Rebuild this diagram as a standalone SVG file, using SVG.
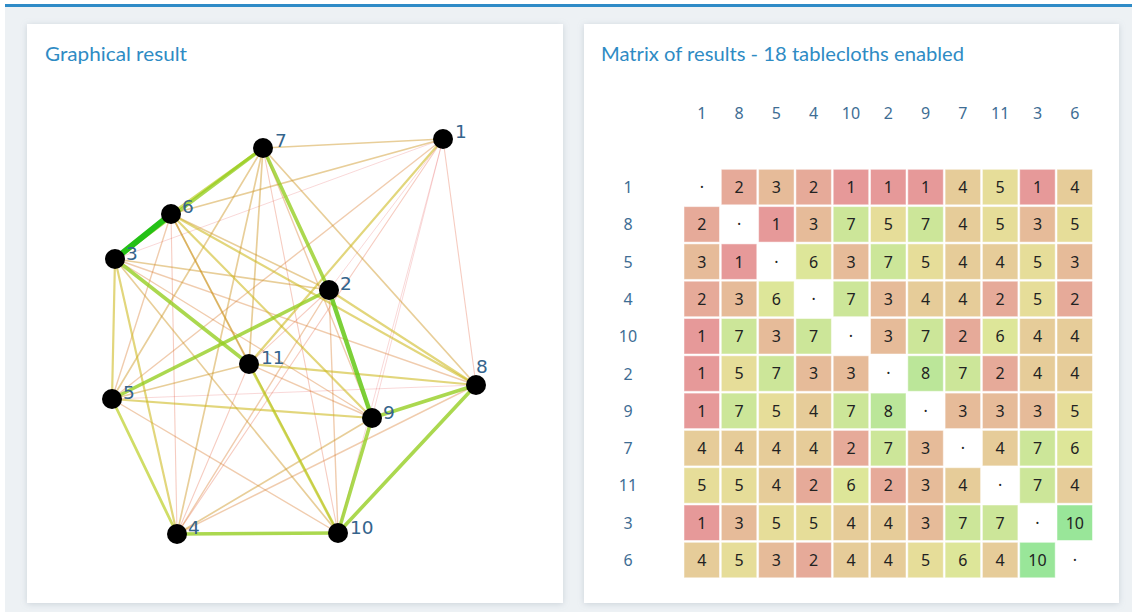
<svg xmlns="http://www.w3.org/2000/svg" width="1132" height="612" viewBox="0 0 1132 612">
<defs>
<filter id="sh" x="-5%" y="-5%" width="110%" height="110%">
<feDropShadow dx="0" dy="1" stdDeviation="3" flood-color="#8a9aa8" flood-opacity="0.35"/>
</filter>
<style>
.title{font-family:"Lato","Noto Sans",sans-serif;font-size:19px;fill:#2e8bc4}
.nl{font-family:"DejaVu Sans",sans-serif;font-size:18.5px;fill:#35648c}
.hd{font-family:"Noto Sans","Liberation Sans",sans-serif;font-size:16px;fill:#3e6d94;text-anchor:middle}
.ct{font-family:"Noto Sans","Liberation Sans",sans-serif;font-size:16px;fill:#222;text-anchor:middle}
.cell rect{stroke:#fff;stroke-opacity:.5;stroke-width:1}
.c1{fill:#e69999}.c2{fill:#e6aa99}.c3{fill:#e6bb99}.c4{fill:#e6cc99}.c5{fill:#e6dd99}
.c6{fill:#dde699}.c7{fill:#cce699}.c8{fill:#bbe699}.c10{fill:#99e699}
line{stroke-linecap:round;fill:none}
.e1{stroke:hsl(0,75%,50%);stroke-opacity:.2;stroke-width:.9}
.e2{stroke:hsl(13,75%,50%);stroke-opacity:.28;stroke-width:1.1}
.e3{stroke:hsl(27,75%,48%);stroke-opacity:.36;stroke-width:1.4}
.e4{stroke:hsl(40,75%,46%);stroke-opacity:.45;stroke-width:1.7}
.e5{stroke:hsl(53,75%,46%);stroke-opacity:.58;stroke-width:2.2}
.e6{stroke:hsl(67,75%,46%);stroke-opacity:.68;stroke-width:2.8}
.e7{stroke:hsl(80,75%,46%);stroke-opacity:.78;stroke-width:3.6}
.e8{stroke:hsl(93,75%,45%);stroke-opacity:.88;stroke-width:4.4}
.e10{stroke:hsl(115,80%,42%);stroke-opacity:1;stroke-width:6}
.node circle{fill:#000}
</style>
</defs>
<rect x="0" y="0" width="1132" height="612" fill="#ffffff"/>
<rect x="5" y="7" width="1127" height="605" fill="#edf1f4"/>
<rect x="5" y="4" width="1127" height="3" fill="#2e8bc7"/>

<g id="panel-left">
<rect x="27" y="24" width="536" height="579" fill="#fff" filter="url(#sh)"/>
<text class="title" x="45" y="61" textLength="142" lengthAdjust="spacingAndGlyphs">Graphical result</text>
</g>
<g id="panel-right">
<rect x="584" y="24" width="535" height="579" fill="#fff" filter="url(#sh)"/>
<text class="title" x="601" y="61" textLength="363" lengthAdjust="spacingAndGlyphs">Matrix of results - 18 tablecloths enabled</text>
</g>

<g id="connectors">
<line class="e1" x1="443" y1="139" x2="338" y2="533"/>
<line class="e1" x1="443" y1="139" x2="329" y2="290"/>
<line class="e1" x1="443" y1="139" x2="372" y2="418"/>
<line class="e1" x1="443" y1="139" x2="115" y2="259"/>
<line class="e1" x1="476" y1="385" x2="112" y2="399"/>
<line class="e2" x1="443" y1="139" x2="476" y2="385"/>
<line class="e2" x1="443" y1="139" x2="177" y2="534"/>
<line class="e2" x1="177" y1="534" x2="249" y2="364"/>
<line class="e2" x1="177" y1="534" x2="171" y2="214"/>
<line class="e2" x1="338" y1="533" x2="263" y2="148"/>
<line class="e2" x1="329" y1="290" x2="249" y2="364"/>
<line class="e3" x1="443" y1="139" x2="112" y2="399"/>
<line class="e3" x1="476" y1="385" x2="177" y2="534"/>
<line class="e3" x1="476" y1="385" x2="115" y2="259"/>
<line class="e3" x1="112" y1="399" x2="338" y2="533"/>
<line class="e3" x1="112" y1="399" x2="171" y2="214"/>
<line class="e3" x1="177" y1="534" x2="329" y2="290"/>
<line class="e3" x1="338" y1="533" x2="329" y2="290"/>
<line class="e3" x1="372" y1="418" x2="263" y2="148"/>
<line class="e3" x1="372" y1="418" x2="249" y2="364"/>
<line class="e3" x1="372" y1="418" x2="115" y2="259"/>
<line class="e4" x1="443" y1="139" x2="263" y2="148"/>
<line class="e4" x1="443" y1="139" x2="171" y2="214"/>
<line class="e4" x1="476" y1="385" x2="263" y2="148"/>
<line class="e4" x1="112" y1="399" x2="263" y2="148"/>
<line class="e4" x1="112" y1="399" x2="249" y2="364"/>
<line class="e4" x1="177" y1="534" x2="372" y2="418"/>
<line class="e4" x1="177" y1="534" x2="263" y2="148"/>
<line class="e4" x1="338" y1="533" x2="115" y2="259"/>
<line class="e4" x1="338" y1="533" x2="171" y2="214"/>
<line class="e4" x1="329" y1="290" x2="115" y2="259"/>
<line class="e4" x1="329" y1="290" x2="171" y2="214"/>
<line class="e4" x1="263" y1="148" x2="249" y2="364"/>
<line class="e4" x1="249" y1="364" x2="171" y2="214"/>
<line class="e5" x1="443" y1="139" x2="249" y2="364"/>
<line class="e5" x1="476" y1="385" x2="329" y2="290"/>
<line class="e5" x1="476" y1="385" x2="249" y2="364"/>
<line class="e5" x1="476" y1="385" x2="171" y2="214"/>
<line class="e5" x1="112" y1="399" x2="372" y2="418"/>
<line class="e5" x1="112" y1="399" x2="115" y2="259"/>
<line class="e5" x1="177" y1="534" x2="115" y2="259"/>
<line class="e5" x1="372" y1="418" x2="171" y2="214"/>
<line class="e6" x1="112" y1="399" x2="177" y2="534"/>
<line class="e6" x1="338" y1="533" x2="249" y2="364"/>
<line class="e6" x1="263" y1="148" x2="171" y2="214"/>
<line class="e7" x1="476" y1="385" x2="338" y2="533"/>
<line class="e7" x1="476" y1="385" x2="372" y2="418"/>
<line class="e7" x1="112" y1="399" x2="329" y2="290"/>
<line class="e7" x1="177" y1="534" x2="338" y2="533"/>
<line class="e7" x1="338" y1="533" x2="372" y2="418"/>
<line class="e7" x1="329" y1="290" x2="263" y2="148"/>
<line class="e7" x1="263" y1="148" x2="115" y2="259"/>
<line class="e7" x1="249" y1="364" x2="115" y2="259"/>
<line class="e8" x1="329" y1="290" x2="372" y2="418"/>
<line class="e10" x1="115" y1="259" x2="171" y2="214"/>
</g>

<g id="node-1" class="node"><circle cx="443" cy="139" r="10"/><text class="nl" x="455" y="138">1</text></g>
<g id="node-2" class="node"><circle cx="329" cy="290" r="10"/><text class="nl" x="340" y="290">2</text></g>
<g id="node-3" class="node"><circle cx="115" cy="259" r="10"/><text class="nl" x="126" y="260">3</text></g>
<g id="node-4" class="node"><circle cx="177" cy="534" r="10"/><text class="nl" x="188" y="534">4</text></g>
<g id="node-5" class="node"><circle cx="112" cy="399" r="10"/><text class="nl" x="123" y="399">5</text></g>
<g id="node-6" class="node"><circle cx="171" cy="214" r="10"/><text class="nl" x="182" y="213">6</text></g>
<g id="node-7" class="node"><circle cx="263" cy="148" r="10"/><text class="nl" x="275" y="147">7</text></g>
<g id="node-8" class="node"><circle cx="476" cy="385" r="10"/><text class="nl" x="476" y="373">8</text></g>
<g id="node-9" class="node"><circle cx="372" cy="418" r="10"/><text class="nl" x="383" y="419">9</text></g>
<g id="node-10" class="node"><circle cx="338" cy="533" r="10"/><text class="nl" x="350" y="534">10</text></g>
<g id="node-11" class="node"><circle cx="249" cy="364" r="10"/><text class="nl" x="261" y="364">11</text></g>

<g id="matrix-header">
<text class="hd" x="701.8" y="119">1</text>
<text class="hd" x="739.1" y="119">8</text>
<text class="hd" x="776.4" y="119">5</text>
<text class="hd" x="813.7" y="119">4</text>
<text class="hd" x="851" y="119">10</text>
<text class="hd" x="888.3" y="119">2</text>
<text class="hd" x="925.6" y="119">9</text>
<text class="hd" x="962.9" y="119">7</text>
<text class="hd" x="1000.2" y="119">11</text>
<text class="hd" x="1037.5" y="119">3</text>
<text class="hd" x="1074.8" y="119">6</text>
</g>
<g id="matrix-rowlabels">
<text class="hd" x="628" y="193">1</text>
<text class="hd" x="628" y="230.3">8</text>
<text class="hd" x="628" y="267.6">5</text>
<text class="hd" x="628" y="304.9">4</text>
<text class="hd" x="628" y="342.2">10</text>
<text class="hd" x="628" y="379.5">2</text>
<text class="hd" x="628" y="416.8">9</text>
<text class="hd" x="628" y="454.1">7</text>
<text class="hd" x="628" y="491.4">11</text>
<text class="hd" x="628" y="528.7">3</text>
<text class="hd" x="628" y="566">6</text>
</g>

<g id="matrix-cells" class="cell">
<g transform="translate(0,169.3)">
<text class="ct" x="701.8" y="23.7">·</text>
<rect class="c2" x="721.3" y="0" width="35.5" height="35.5"/><text class="ct" x="739.1" y="23.7">2</text>
<rect class="c3" x="758.6" y="0" width="35.5" height="35.5"/><text class="ct" x="776.4" y="23.7">3</text>
<rect class="c2" x="795.9" y="0" width="35.5" height="35.5"/><text class="ct" x="813.7" y="23.7">2</text>
<rect class="c1" x="833.2" y="0" width="35.5" height="35.5"/><text class="ct" x="851" y="23.7">1</text>
<rect class="c1" x="870.5" y="0" width="35.5" height="35.5"/><text class="ct" x="888.3" y="23.7">1</text>
<rect class="c1" x="907.8" y="0" width="35.5" height="35.5"/><text class="ct" x="925.6" y="23.7">1</text>
<rect class="c4" x="945.1" y="0" width="35.5" height="35.5"/><text class="ct" x="962.9" y="23.7">4</text>
<rect class="c5" x="982.4" y="0" width="35.5" height="35.5"/><text class="ct" x="1000.2" y="23.7">5</text>
<rect class="c1" x="1019.7" y="0" width="35.5" height="35.5"/><text class="ct" x="1037.5" y="23.7">1</text>
<rect class="c4" x="1057" y="0" width="35.5" height="35.5"/><text class="ct" x="1074.8" y="23.7">4</text>
</g>
<g transform="translate(0,206.6)">
<rect class="c2" x="684" y="0" width="35.5" height="35.5"/><text class="ct" x="701.8" y="23.7">2</text>
<text class="ct" x="739.1" y="23.7">·</text>
<rect class="c1" x="758.6" y="0" width="35.5" height="35.5"/><text class="ct" x="776.4" y="23.7">1</text>
<rect class="c3" x="795.9" y="0" width="35.5" height="35.5"/><text class="ct" x="813.7" y="23.7">3</text>
<rect class="c7" x="833.2" y="0" width="35.5" height="35.5"/><text class="ct" x="851" y="23.7">7</text>
<rect class="c5" x="870.5" y="0" width="35.5" height="35.5"/><text class="ct" x="888.3" y="23.7">5</text>
<rect class="c7" x="907.8" y="0" width="35.5" height="35.5"/><text class="ct" x="925.6" y="23.7">7</text>
<rect class="c4" x="945.1" y="0" width="35.5" height="35.5"/><text class="ct" x="962.9" y="23.7">4</text>
<rect class="c5" x="982.4" y="0" width="35.5" height="35.5"/><text class="ct" x="1000.2" y="23.7">5</text>
<rect class="c3" x="1019.7" y="0" width="35.5" height="35.5"/><text class="ct" x="1037.5" y="23.7">3</text>
<rect class="c5" x="1057" y="0" width="35.5" height="35.5"/><text class="ct" x="1074.8" y="23.7">5</text>
</g>
<g transform="translate(0,243.9)">
<rect class="c3" x="684" y="0" width="35.5" height="35.5"/><text class="ct" x="701.8" y="23.7">3</text>
<rect class="c1" x="721.3" y="0" width="35.5" height="35.5"/><text class="ct" x="739.1" y="23.7">1</text>
<text class="ct" x="776.4" y="23.7">·</text>
<rect class="c6" x="795.9" y="0" width="35.5" height="35.5"/><text class="ct" x="813.7" y="23.7">6</text>
<rect class="c3" x="833.2" y="0" width="35.5" height="35.5"/><text class="ct" x="851" y="23.7">3</text>
<rect class="c7" x="870.5" y="0" width="35.5" height="35.5"/><text class="ct" x="888.3" y="23.7">7</text>
<rect class="c5" x="907.8" y="0" width="35.5" height="35.5"/><text class="ct" x="925.6" y="23.7">5</text>
<rect class="c4" x="945.1" y="0" width="35.5" height="35.5"/><text class="ct" x="962.9" y="23.7">4</text>
<rect class="c4" x="982.4" y="0" width="35.5" height="35.5"/><text class="ct" x="1000.2" y="23.7">4</text>
<rect class="c5" x="1019.7" y="0" width="35.5" height="35.5"/><text class="ct" x="1037.5" y="23.7">5</text>
<rect class="c3" x="1057" y="0" width="35.5" height="35.5"/><text class="ct" x="1074.8" y="23.7">3</text>
</g>
<g transform="translate(0,281.2)">
<rect class="c2" x="684" y="0" width="35.5" height="35.5"/><text class="ct" x="701.8" y="23.7">2</text>
<rect class="c3" x="721.3" y="0" width="35.5" height="35.5"/><text class="ct" x="739.1" y="23.7">3</text>
<rect class="c6" x="758.6" y="0" width="35.5" height="35.5"/><text class="ct" x="776.4" y="23.7">6</text>
<text class="ct" x="813.7" y="23.7">·</text>
<rect class="c7" x="833.2" y="0" width="35.5" height="35.5"/><text class="ct" x="851" y="23.7">7</text>
<rect class="c3" x="870.5" y="0" width="35.5" height="35.5"/><text class="ct" x="888.3" y="23.7">3</text>
<rect class="c4" x="907.8" y="0" width="35.5" height="35.5"/><text class="ct" x="925.6" y="23.7">4</text>
<rect class="c4" x="945.1" y="0" width="35.5" height="35.5"/><text class="ct" x="962.9" y="23.7">4</text>
<rect class="c2" x="982.4" y="0" width="35.5" height="35.5"/><text class="ct" x="1000.2" y="23.7">2</text>
<rect class="c5" x="1019.7" y="0" width="35.5" height="35.5"/><text class="ct" x="1037.5" y="23.7">5</text>
<rect class="c2" x="1057" y="0" width="35.5" height="35.5"/><text class="ct" x="1074.8" y="23.7">2</text>
</g>
<g transform="translate(0,318.5)">
<rect class="c1" x="684" y="0" width="35.5" height="35.5"/><text class="ct" x="701.8" y="23.7">1</text>
<rect class="c7" x="721.3" y="0" width="35.5" height="35.5"/><text class="ct" x="739.1" y="23.7">7</text>
<rect class="c3" x="758.6" y="0" width="35.5" height="35.5"/><text class="ct" x="776.4" y="23.7">3</text>
<rect class="c7" x="795.9" y="0" width="35.5" height="35.5"/><text class="ct" x="813.7" y="23.7">7</text>
<text class="ct" x="851" y="23.7">·</text>
<rect class="c3" x="870.5" y="0" width="35.5" height="35.5"/><text class="ct" x="888.3" y="23.7">3</text>
<rect class="c7" x="907.8" y="0" width="35.5" height="35.5"/><text class="ct" x="925.6" y="23.7">7</text>
<rect class="c2" x="945.1" y="0" width="35.5" height="35.5"/><text class="ct" x="962.9" y="23.7">2</text>
<rect class="c6" x="982.4" y="0" width="35.5" height="35.5"/><text class="ct" x="1000.2" y="23.7">6</text>
<rect class="c4" x="1019.7" y="0" width="35.5" height="35.5"/><text class="ct" x="1037.5" y="23.7">4</text>
<rect class="c4" x="1057" y="0" width="35.5" height="35.5"/><text class="ct" x="1074.8" y="23.7">4</text>
</g>
<g transform="translate(0,355.8)">
<rect class="c1" x="684" y="0" width="35.5" height="35.5"/><text class="ct" x="701.8" y="23.7">1</text>
<rect class="c5" x="721.3" y="0" width="35.5" height="35.5"/><text class="ct" x="739.1" y="23.7">5</text>
<rect class="c7" x="758.6" y="0" width="35.5" height="35.5"/><text class="ct" x="776.4" y="23.7">7</text>
<rect class="c3" x="795.9" y="0" width="35.5" height="35.5"/><text class="ct" x="813.7" y="23.7">3</text>
<rect class="c3" x="833.2" y="0" width="35.5" height="35.5"/><text class="ct" x="851" y="23.7">3</text>
<text class="ct" x="888.3" y="23.7">·</text>
<rect class="c8" x="907.8" y="0" width="35.5" height="35.5"/><text class="ct" x="925.6" y="23.7">8</text>
<rect class="c7" x="945.1" y="0" width="35.5" height="35.5"/><text class="ct" x="962.9" y="23.7">7</text>
<rect class="c2" x="982.4" y="0" width="35.5" height="35.5"/><text class="ct" x="1000.2" y="23.7">2</text>
<rect class="c4" x="1019.7" y="0" width="35.5" height="35.5"/><text class="ct" x="1037.5" y="23.7">4</text>
<rect class="c4" x="1057" y="0" width="35.5" height="35.5"/><text class="ct" x="1074.8" y="23.7">4</text>
</g>
<g transform="translate(0,393.1)">
<rect class="c1" x="684" y="0" width="35.5" height="35.5"/><text class="ct" x="701.8" y="23.7">1</text>
<rect class="c7" x="721.3" y="0" width="35.5" height="35.5"/><text class="ct" x="739.1" y="23.7">7</text>
<rect class="c5" x="758.6" y="0" width="35.5" height="35.5"/><text class="ct" x="776.4" y="23.7">5</text>
<rect class="c4" x="795.9" y="0" width="35.5" height="35.5"/><text class="ct" x="813.7" y="23.7">4</text>
<rect class="c7" x="833.2" y="0" width="35.5" height="35.5"/><text class="ct" x="851" y="23.7">7</text>
<rect class="c8" x="870.5" y="0" width="35.5" height="35.5"/><text class="ct" x="888.3" y="23.7">8</text>
<text class="ct" x="925.6" y="23.7">·</text>
<rect class="c3" x="945.1" y="0" width="35.5" height="35.5"/><text class="ct" x="962.9" y="23.7">3</text>
<rect class="c3" x="982.4" y="0" width="35.5" height="35.5"/><text class="ct" x="1000.2" y="23.7">3</text>
<rect class="c3" x="1019.7" y="0" width="35.5" height="35.5"/><text class="ct" x="1037.5" y="23.7">3</text>
<rect class="c5" x="1057" y="0" width="35.5" height="35.5"/><text class="ct" x="1074.8" y="23.7">5</text>
</g>
<g transform="translate(0,430.4)">
<rect class="c4" x="684" y="0" width="35.5" height="35.5"/><text class="ct" x="701.8" y="23.7">4</text>
<rect class="c4" x="721.3" y="0" width="35.5" height="35.5"/><text class="ct" x="739.1" y="23.7">4</text>
<rect class="c4" x="758.6" y="0" width="35.5" height="35.5"/><text class="ct" x="776.4" y="23.7">4</text>
<rect class="c4" x="795.9" y="0" width="35.5" height="35.5"/><text class="ct" x="813.7" y="23.7">4</text>
<rect class="c2" x="833.2" y="0" width="35.5" height="35.5"/><text class="ct" x="851" y="23.7">2</text>
<rect class="c7" x="870.5" y="0" width="35.5" height="35.5"/><text class="ct" x="888.3" y="23.7">7</text>
<rect class="c3" x="907.8" y="0" width="35.5" height="35.5"/><text class="ct" x="925.6" y="23.7">3</text>
<text class="ct" x="962.9" y="23.7">·</text>
<rect class="c4" x="982.4" y="0" width="35.5" height="35.5"/><text class="ct" x="1000.2" y="23.7">4</text>
<rect class="c7" x="1019.7" y="0" width="35.5" height="35.5"/><text class="ct" x="1037.5" y="23.7">7</text>
<rect class="c6" x="1057" y="0" width="35.5" height="35.5"/><text class="ct" x="1074.8" y="23.7">6</text>
</g>
<g transform="translate(0,467.7)">
<rect class="c5" x="684" y="0" width="35.5" height="35.5"/><text class="ct" x="701.8" y="23.7">5</text>
<rect class="c5" x="721.3" y="0" width="35.5" height="35.5"/><text class="ct" x="739.1" y="23.7">5</text>
<rect class="c4" x="758.6" y="0" width="35.5" height="35.5"/><text class="ct" x="776.4" y="23.7">4</text>
<rect class="c2" x="795.9" y="0" width="35.5" height="35.5"/><text class="ct" x="813.7" y="23.7">2</text>
<rect class="c6" x="833.2" y="0" width="35.5" height="35.5"/><text class="ct" x="851" y="23.7">6</text>
<rect class="c2" x="870.5" y="0" width="35.5" height="35.5"/><text class="ct" x="888.3" y="23.7">2</text>
<rect class="c3" x="907.8" y="0" width="35.5" height="35.5"/><text class="ct" x="925.6" y="23.7">3</text>
<rect class="c4" x="945.1" y="0" width="35.5" height="35.5"/><text class="ct" x="962.9" y="23.7">4</text>
<text class="ct" x="1000.2" y="23.7">·</text>
<rect class="c7" x="1019.7" y="0" width="35.5" height="35.5"/><text class="ct" x="1037.5" y="23.7">7</text>
<rect class="c4" x="1057" y="0" width="35.5" height="35.5"/><text class="ct" x="1074.8" y="23.7">4</text>
</g>
<g transform="translate(0,505)">
<rect class="c1" x="684" y="0" width="35.5" height="35.5"/><text class="ct" x="701.8" y="23.7">1</text>
<rect class="c3" x="721.3" y="0" width="35.5" height="35.5"/><text class="ct" x="739.1" y="23.7">3</text>
<rect class="c5" x="758.6" y="0" width="35.5" height="35.5"/><text class="ct" x="776.4" y="23.7">5</text>
<rect class="c5" x="795.9" y="0" width="35.5" height="35.5"/><text class="ct" x="813.7" y="23.7">5</text>
<rect class="c4" x="833.2" y="0" width="35.5" height="35.5"/><text class="ct" x="851" y="23.7">4</text>
<rect class="c4" x="870.5" y="0" width="35.5" height="35.5"/><text class="ct" x="888.3" y="23.7">4</text>
<rect class="c3" x="907.8" y="0" width="35.5" height="35.5"/><text class="ct" x="925.6" y="23.7">3</text>
<rect class="c7" x="945.1" y="0" width="35.5" height="35.5"/><text class="ct" x="962.9" y="23.7">7</text>
<rect class="c7" x="982.4" y="0" width="35.5" height="35.5"/><text class="ct" x="1000.2" y="23.7">7</text>
<text class="ct" x="1037.5" y="23.7">·</text>
<rect class="c10" x="1057" y="0" width="35.5" height="35.5"/><text class="ct" x="1074.8" y="23.7">10</text>
</g>
<g transform="translate(0,542.3)">
<rect class="c4" x="684" y="0" width="35.5" height="35.5"/><text class="ct" x="701.8" y="23.7">4</text>
<rect class="c5" x="721.3" y="0" width="35.5" height="35.5"/><text class="ct" x="739.1" y="23.7">5</text>
<rect class="c3" x="758.6" y="0" width="35.5" height="35.5"/><text class="ct" x="776.4" y="23.7">3</text>
<rect class="c2" x="795.9" y="0" width="35.5" height="35.5"/><text class="ct" x="813.7" y="23.7">2</text>
<rect class="c4" x="833.2" y="0" width="35.5" height="35.5"/><text class="ct" x="851" y="23.7">4</text>
<rect class="c4" x="870.5" y="0" width="35.5" height="35.5"/><text class="ct" x="888.3" y="23.7">4</text>
<rect class="c5" x="907.8" y="0" width="35.5" height="35.5"/><text class="ct" x="925.6" y="23.7">5</text>
<rect class="c6" x="945.1" y="0" width="35.5" height="35.5"/><text class="ct" x="962.9" y="23.7">6</text>
<rect class="c4" x="982.4" y="0" width="35.5" height="35.5"/><text class="ct" x="1000.2" y="23.7">4</text>
<rect class="c10" x="1019.7" y="0" width="35.5" height="35.5"/><text class="ct" x="1037.5" y="23.7">10</text>
<text class="ct" x="1074.8" y="23.7">·</text>
</g>
</g>
</svg>
